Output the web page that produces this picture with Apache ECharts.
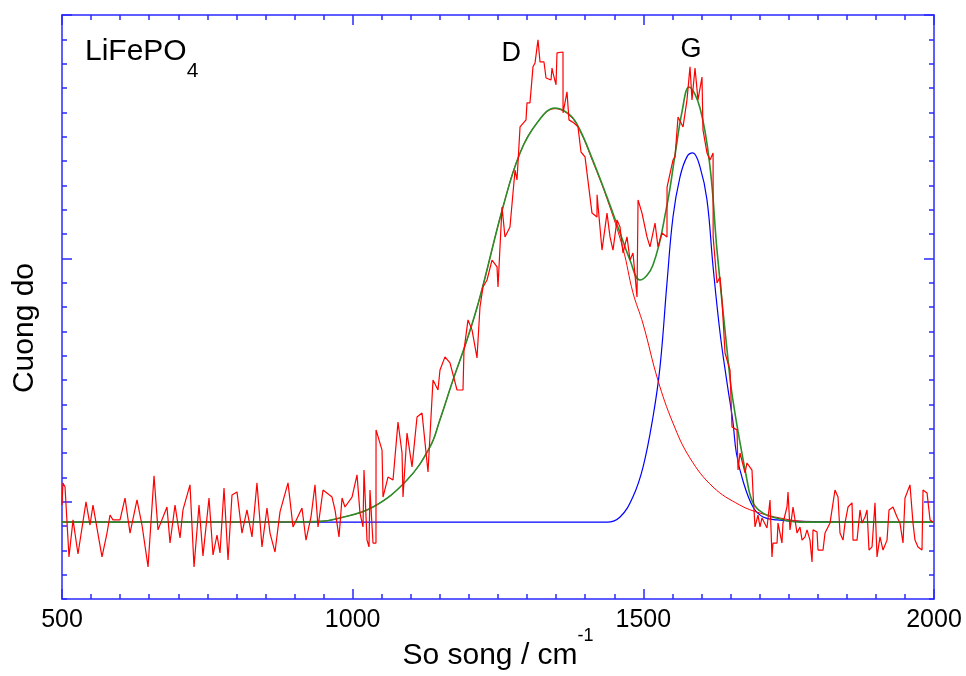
<!DOCTYPE html>
<html>
<head>
<meta charset="utf-8">
<script src="https://cdn.jsdelivr.net/npm/echarts@6/dist/echarts.min.js"></script>
<style>
  html, body { margin: 0; background: #fff; }
  #chart { width: 966px; height: 676px; }
</style>
</head>
<body>
<div id="chart"></div>
<script>
// measured Raman spectrum [wavenumber, intensity]
const ramanData = [
  [500, 3.86], [501.7, 4.77], [505.2, 4.60], [512, 1.73], [519, 3.25], [527.5, 1.85], [541.3, 3.99],
  [548.2, 3.04], [553.3, 3.86], [568.8, 1.73], [577.4, 2.71], [582.6, 3.45], [587.7, 3.25], [599.8, 3.25],
  [608.4, 4.15], [617, 2.71], [629, 4.07], [637.6, 3.04], [648, 1.32], [658.3, 5.06], [665.1, 2.84],
  [680.6, 3.78], [685.8, 2.30], [694.4, 3.86], [703, 2.51], [708.1, 3.66], [720.2, 4.69], [727.1, 1.32],
  [735.7, 3.86], [742.5, 1.77], [752.9, 4.15], [759.8, 1.81], [766.6, 2.63], [771.8, 1.89], [778.7, 4.56],
  [785.6, 1.60], [792.4, 4.27], [801, 4.40], [809.6, 2.71], [818.2, 3.66], [826.8, 2.55], [835.4, 4.77],
  [844, 2.14], [852.6, 3.74], [857.8, 2.71], [866.4, 1.93], [875, 3.58], [888.8, 4.77], [897.4, 2.96],
  [912.8, 3.74], [919.7, 2.42], [928.3, 3.37], [935.2, 4.69], [940.4, 2.96], [949, 4.48], [964.5, 4.19],
  [969.6, 3.66], [976.5, 2.55], [981.7, 4.15], [986.8, 3.78], [998.9, 4.19], [1007.5, 5.10], [1012.6, 3.53],
  [1017.8, 2.96], [1019.5, 5.30], [1024.7, 2.42], [1028.1, 2.14], [1029.8, 4.48], [1035, 2.30], [1040.1, 2.30],
  [1040.2, 6.95], [1050.5, 6.12], [1052.2, 4.19], [1060.8, 5.01], [1069.4, 4.89], [1078, 7.27], [1084.9, 6.00],
  [1086.6, 4.19], [1093.5, 6.82], [1102.1, 5.43], [1110.7, 7.48], [1119.3, 7.64], [1129.6, 5.22], [1138.2, 9.00],
  [1146.8, 8.59], [1150.2, 9.41], [1158.8, 9.95], [1167.4, 9.70], [1179.5, 8.59], [1189.8, 8.59], [1191.5, 10.23],
  [1198.4, 11.47], [1205.3, 11.06], [1213.9, 9.91], [1219, 12.00], [1224.2, 12.82], [1231.1, 13.11], [1239.7, 13.93],
  [1248.3, 13.65], [1250, 12.82], [1256.9, 16.11], [1262, 14.88], [1270.6, 15.29], [1279.3, 17.63], [1282.7, 17.22],
  [1287.9, 19.40], [1298.2, 19.69], [1299.9, 20.39], [1305, 20.39], [1310.2, 21.87], [1313.7, 22.03], [1318.8, 22.98],
  [1322.3, 22.07], [1329.1, 22.07], [1332.6, 21.41], [1341.2, 21.33], [1342.9, 21.82], [1344.6, 21.62], [1349.8, 21.13],
  [1351.5, 22.44], [1361.8, 22.48], [1361.9, 19.98], [1368.7, 20.84], [1372.1, 19.69], [1380.7, 19.56], [1387.6, 19.40],
  [1392.8, 18.37], [1399.7, 18.17], [1403.1, 17.51], [1411.7, 15.86], [1420.3, 15.70], [1420.4, 16.61], [1428.9, 14.34],
  [1437.5, 15.86], [1442.7, 14.88], [1447.8, 14.34], [1454.7, 15.58], [1459.9, 15.29], [1465, 14.22], [1471.9, 14.88],
  [1477.1, 13.93], [1482.2, 14.22], [1489.1, 12.41], [1490.9, 16.40], [1497.7, 15.86], [1506.3, 14.88], [1511.5, 14.47],
  [1520.1, 15.45], [1525.2, 14.47], [1532.1, 15.04], [1540.7, 14.88], [1540.8, 16.93], [1551, 18.04], [1554.5, 18.17],
  [1559.7, 19.81], [1568.3, 19.40], [1575.1, 20.51], [1580.3, 21.87], [1583.7, 20.51], [1588.9, 21.82], [1594, 20.51],
  [1600.9, 21.45], [1602.6, 19.28], [1609.5, 18.33], [1614.7, 18.04], [1620, 18.33], [1620.1, 14.88], [1626.7, 12.99],
  [1631.9, 13.23], [1635.3, 12.29], [1640.5, 10.11], [1649.1, 9.41], [1652.5, 7.07], [1661.1, 6.95], [1662.9, 5.30],
  [1666.3, 6.00], [1674.9, 5.18], [1678.3, 5.59], [1686.9, 5.30], [1688.7, 4.36], [1692.1, 2.96], [1697.2, 3.45],
  [1700.7, 2.96], [1704.1, 3.33], [1712.7, 2.92], [1717.9, 4.07], [1721.3, 1.73], [1723, 2.30], [1730, 2.30],
  [1731.7, 3.12], [1738.5, 2.30], [1740.2, 3.12], [1747.1, 3.78], [1748.9, 4.40], [1752.3, 2.84], [1757.5, 3.78],
  [1764.4, 2.71], [1769.5, 2.96], [1773, 2.42], [1778.1, 2.55], [1781.6, 2.84], [1786.7, 2.42], [1790.2, 1.52],
  [1791.9, 2.84], [1798.8, 2.75], [1800.5, 2.01], [1809.1, 2.01], [1812.5, 2.71], [1821.1, 3.12], [1829.7, 4.48],
  [1834.9, 4.19], [1838.3, 2.71], [1843.5, 2.42], [1846.9, 3.12], [1852.1, 3.78], [1859, 3.95], [1860.7, 2.42],
  [1867.6, 2.42], [1872.7, 3.66], [1876.2, 3.12], [1881.3, 3.37], [1884.8, 3.66], [1888.2, 2.01], [1893.4, 2.14],
  [1898.5, 3.95], [1902, 1.73], [1907.1, 2.55], [1912.3, 2.01], [1919.2, 2.42], [1922.6, 3.66], [1929.5, 3.78],
  [1936.4, 3.37], [1941.5, 3.12], [1946.7, 2.30], [1950.1, 4.15], [1958.7, 4.69], [1963.9, 3.12], [1967.3, 2.42],
  [1972.5, 2.14], [1979.4, 2.01], [1981.1, 4.48], [1988, 4.36], [1993.2, 3.25], [1998.3, 3.16]
];

// fitted D band
const fitD = [
  [500, 3.16], [900, 3.17], [943.8, 3.19], [978.2, 3.33], [1035, 3.78], [1093.5, 4.89], [1133, 6.25],
  [1150, 7.36], [1172.6, 9.0], [1196.7, 10.65], [1219, 12.41], [1258.6, 16.11], [1287.9, 18.33], [1317, 19.56],
  [1348, 20.15], [1374, 19.85], [1391, 19.24], [1413, 17.98], [1437.5, 16.45], [1465, 14.4], [1482, 12.6],
  [1499.6, 11.3], [1525, 9.0], [1551, 7.23], [1580, 5.8], [1620, 4.6], [1666, 3.86], [1700.7, 3.53],
  [1735, 3.33], [1769.5, 3.2], [1821, 3.16], [2000, 3.16]
];

// fitted G band
const fitG = [
  [500, 3.16], [1437.5, 3.16], [1460, 3.37], [1482, 4.19], [1499.6, 5.43], [1516.6, 7.48], [1528.7, 9.54],
  [1540.7, 12.99], [1551, 15.7], [1563, 17.34], [1575, 18.17], [1585, 18.33], [1597.5, 17.76], [1609.5, 16.4],
  [1620, 13.65], [1632, 10.93], [1644, 8.88], [1654, 7.3], [1660, 6.0], [1671, 4.89], [1688.7, 3.78],
  [1706, 3.37], [1730, 3.25], [1769.5, 3.19], [2000, 3.16]
];

// sum of fitted bands
const fitSum = [
  [500, 3.16], [900, 3.17], [943.8, 3.19], [978.2, 3.33], [1035, 3.78], [1093.5, 4.89], [1133, 6.25],
  [1150, 7.36], [1172.6, 9.0], [1196.7, 10.65], [1219, 12.41], [1258.6, 16.11], [1287.9, 18.33], [1317, 19.56],
  [1348, 20.18], [1374, 19.89], [1391, 19.28], [1413, 18.04], [1437.5, 16.52], [1460, 15.04], [1477, 13.93],
  [1494, 13.11], [1516.6, 13.73], [1540.7, 16.19], [1554.5, 18.25], [1566.5, 20.02], [1578.6, 21.04],
  [1597.5, 20.18], [1614.7, 17.76], [1626.7, 14.34], [1644, 10.23], [1654, 8.18], [1678.3, 4.89],
  [1688.7, 3.95], [1706, 3.53], [1735, 3.29], [1769.5, 3.16], [2000, 3.16]
];

const xMajorTicks = [500, 1000, 1500, 2000];
const yMajorTicks = [4, 14, 24];
const peakLabels = [
  { name: 'D', coord: [1273, 22.4] },
  { name: 'G', coord: [1582, 22.6] }
];

const axisColor = '#2a2aff';
const font = '"Liberation Sans", Arial, sans-serif';

function xFrame(position, major) {
  return {
    type: 'value', min: 500, max: 2000, interval: major ? 500 : 50, position: position,
    axisLine: { show: !major, onZero: false, lineStyle: { color: axisColor, width: 1.5 } },
    axisTick: { inside: true, length: major ? 10 : 5, lineStyle: { color: axisColor, width: 1.5 } },
    axisLabel: {
      show: major && position === 'bottom', color: '#000', fontSize: 25, fontFamily: font, margin: 9,
      customValues: xMajorTicks,
      formatter: function (v) { return String(v); }
    },
    splitLine: { show: false }
  };
}

function yFrame(position, major) {
  const ax = {
    type: 'value', min: 0, max: 24, interval: 1, position: position,
    axisLine: { show: !major, onZero: false, lineStyle: { color: axisColor, width: 1.5 } },
    axisTick: { inside: true, length: major ? 10 : 5, lineStyle: { color: axisColor, width: 1.5 } },
    axisLabel: { show: false },
    splitLine: { show: false }
  };
  if (major) ax.axisTick.customValues = yMajorTicks;
  return ax;
}

const xAxes = [xFrame('bottom', false), xFrame('bottom', true), xFrame('top', false), xFrame('top', true)];
xAxes[0].name = 'So song / cm{sup|-1}';
xAxes[0].nameLocation = 'middle';
xAxes[0].nameGap = 28;
xAxes[0].nameTextStyle = {
  color: '#000', fontSize: 30, fontFamily: font,
  rich: { sup: { fontSize: 18, fontFamily: font, color: '#000', padding: [0, 0, 40, 0] } }
};

const yAxes = [yFrame('left', false), yFrame('left', true), yFrame('right', false), yFrame('right', true)];
yAxes[0].name = 'Cuong do';
yAxes[0].nameLocation = 'middle';
yAxes[0].nameGap = 22;
yAxes[0].nameTextStyle = { color: '#000', fontSize: 30, fontFamily: font, padding: [0, 42, 0, 0] };

const chart = echarts.init(document.getElementById('chart'));
chart.setOption({
  animation: false,
  backgroundColor: '#fff',
  title: {
    text: 'LiFePO{sub|4}',
    left: 80, top: 16,
    textStyle: {
      color: '#000', fontSize: 30, fontWeight: 'normal', fontFamily: font,
      rich: { sub: { fontSize: 21, fontFamily: font, color: '#000', padding: [40, 0, 0, 0] } }
    }
  },
  grid: { left: 62, right: 32, top: 15, bottom: 77, outerBoundsMode: 'none' },
  xAxis: xAxes,
  yAxis: yAxes,
  series: [
    {
      name: 'G', type: 'line', data: fitG, showSymbol: false, smooth: 0.4,
      lineStyle: { color: '#0000ff', width: 1.2 }, z: 2
    },
    {
      name: 'D', type: 'line', data: fitD, showSymbol: false, smooth: 0.4,
      lineStyle: { color: '#ff0000', width: 1 }, z: 3
    },
    {
      name: 'Fit', type: 'line', data: fitSum, showSymbol: false, smooth: 0.4,
      lineStyle: { color: '#2a8f2a', width: 1.6 }, z: 4
    },
    {
      name: 'Raman', type: 'line', data: ramanData, showSymbol: false,
      lineStyle: { color: '#ff0000', width: 1.2 }, z: 5,
      markPoint: {
        symbol: 'circle', symbolSize: 1, itemStyle: { color: 'rgba(0,0,0,0)' },
        label: {
          show: true, position: 'inside', formatter: '{b}',
          color: '#000', fontSize: 27, fontFamily: font
        },
        data: peakLabels
      }
    }
  ]
});
</script>
</body>
</html>
